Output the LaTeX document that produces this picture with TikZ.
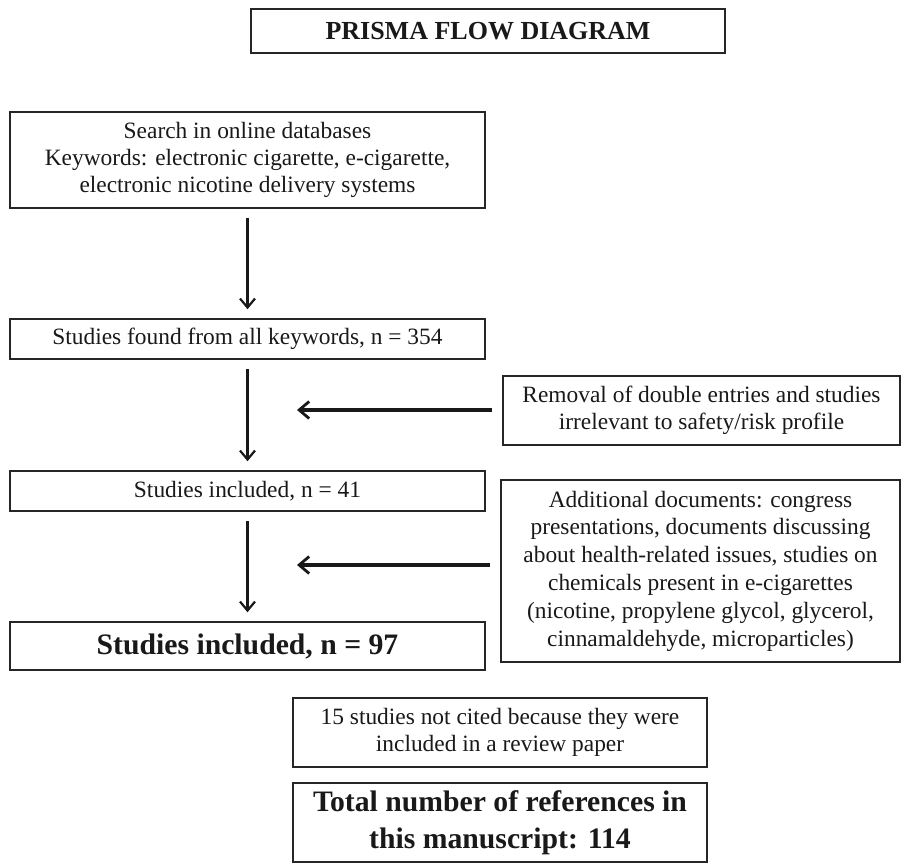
\documentclass[tikz,border=0pt]{standalone}
\usepackage{fontspec}
\setmainfont{Liberation Serif}
\usetikzlibrary{arrows.meta}
\begin{document}
\begin{tikzpicture}[x=1pt,y=-1pt,
  box/.style={draw=black!85, line width=1.5pt, inner sep=0pt, align=center, text=black!90},
  reg/.style={font=\fontsize{23.4}{27}\selectfont},
  regwide/.style={font=\fontsize{23.4}{27.8}\selectfont},
  big/.style={font=\fontsize{29.7}{37.5}\selectfont\bfseries},
  downarrow/.style={draw=black!90, line width=2.3pt, -{Straight Barb[length=9pt,width=15pt,line width=2.2pt]}, shorten <=9pt, shorten >=9pt},
  sidearrow/.style={draw=black!90, line width=3.2pt, -{Straight Barb[length=10pt,width=17pt,line width=2.8pt]}, shorten <=10pt}
]
\useasboundingbox (0,0) rectangle (903,864);
\fill[white] (0,0) rectangle (903,864);

\node[box, font=\fontsize{26}{30}\selectfont\bfseries, minimum width=474pt, minimum height=44pt] (title) at (488,31) {PRISMA FLOW DIAGRAM};

\node[box, reg, minimum width=475pt, minimum height=96pt] (search) at (247.5,160)
  {Search in online databases\\Keywords: electronic cigarette, e-cigarette,\\electronic nicotine delivery systems};

\node[box, reg, minimum width=475pt, minimum height=40pt] (found) at (247.5,339)
  {Studies found from all keywords, n = 354};

\node[box, reg, minimum width=397pt, minimum height=69pt] (removal) at (701.5,410.5)
  {Removal of double entries and studies\\irrelevant to safety/risk profile};

\node[box, reg, minimum width=475pt, minimum height=40pt] (inc41) at (247.5,491)
  {Studies included, n = 41};

\node[box, regwide, minimum width=399pt, minimum height=182pt] (additional) at (700.5,571)
  {Additional documents: congress\\presentations, documents discussing\\about health-related issues, studies on\\chemicals present in e-cigarettes\\(nicotine, propylene glycol, glycerol,\\cinnamaldehyde, microparticles)};

\node[box, big, minimum width=475pt, minimum height=48pt] (inc97) at (247.5,646)
  {Studies included, n = 97};

\node[box, reg, minimum width=414pt, minimum height=69pt] (notcited) at (500,732.5)
  {15 studies not cited because they were\\included in a review paper};

\node[box, big, minimum width=414pt, minimum height=79pt] (total) at (500,822.5)
  {Total number of references in\\this manuscript: 114};

\coordinate (tipA) at (297,410);
\coordinate (tipB) at (297,565);

\draw[downarrow] (search.south) -- (found.north);
\draw[downarrow] (found.south) -- (inc41.north);
\draw[downarrow] (inc41.south) -- (inc97.north);
\draw[sidearrow] (removal.west |- tipA) -- (tipA);
\draw[sidearrow] (additional.west |- tipB) -- (tipB);
\end{tikzpicture}
\end{document}
